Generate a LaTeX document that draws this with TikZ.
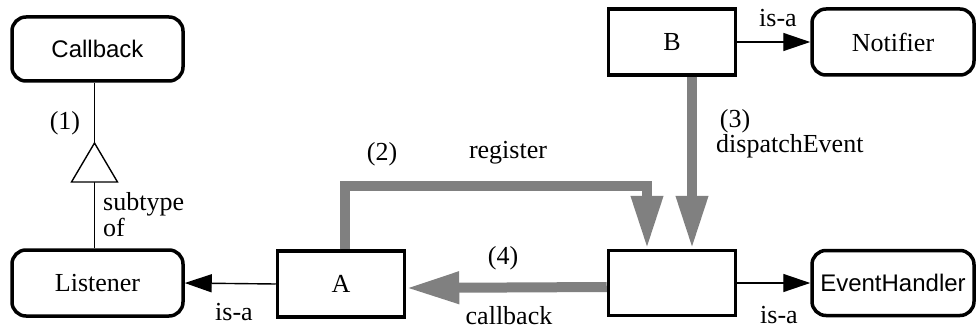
\documentclass[tikz,border=0pt]{standalone}
\usepackage{fontspec}
\setmainfont{Liberation Serif}
\newfontfamily\helv{Liberation Sans}
\usetikzlibrary{arrows.meta,calc}
\definecolor{flowgray}{HTML}{808080}
\tikzset{
  serif/.style={font=\fontsize{26}{26}\selectfont},
  sans/.style={font=\helv\fontsize{24}{24}\selectfont},
  classbox/.style={draw, line width=3.5pt, inner sep=0pt, minimum width=127pt, minimum height=66pt, serif},
  typebox/.style={classbox, rounded corners=14pt, minimum width=163pt},
  thinline/.style={line width=1.4pt},
  isa/.style={thinline, -{Triangle[length=27pt,width=18pt]}},
  flow/.style={draw=flowgray, line width=10pt, -{Triangle[length=53pt,width=30pt,fill=flowgray]}},
  lbl/.style={serif, inner sep=0pt, anchor=base},
}
\begin{document}
\begin{tikzpicture}[x=1pt,y=-1pt]
\useasboundingbox (0,0) rectangle (978,329);

% interface types (rounded) and classes (square)
\node[typebox, minimum width=171pt, minimum height=64pt, sans] (cb) at (97.5,49) {Callback};
\node[typebox, minimum width=171pt] (lst) at (97.5,283) {Listener};
\node[classbox] (a) at (341,284) {A};
\node[classbox] (b) at (672,42) {B};
\node[classbox, minimum height=65pt] (h) at (672,283) {};
\node[typebox, minimum width=162pt] (nt) at (893,42) {Notifier};
\node[typebox, minimum width=162pt, minimum height=65pt, sans] (eh) at (893,283) {EventHandler};

% subtype relation with open triangle
\draw[thinline] (lst.north -| 94.5,0) -- (cb.south -| 94.5,0);
\draw[thinline, fill=white] (94.5,143) -- (117.5,182) -- (71.5,182) -- cycle;

% is-a relations
\draw[isa] (a.west) -- (lst.east);
\draw[isa] (b.east) -- (nt.west);
\draw[isa] (h.east) -- (eh.west);

% event flow
\draw[flow] ([xshift=4pt]a.north) -- ++(0,-63) -| ([xshift=-25pt]h.north);
\draw[flow] ([xshift=20pt]b.south) -- ([xshift=20pt]h.north);
\draw[flow] ([yshift=-4pt]h.west) -- ([yshift=-4pt]a.east);

% labels
\node[lbl] (l1) at (65,129) {(1)};
\node[lbl, anchor=base west] (l1a) at (103,210) {subtype};
\node[lbl, anchor=base west] (l1b) at (103,236) {of};
\node[lbl] (isa1) at (234,320) {is-a};
\node[lbl] (l2) at (382,160) {(2)};
\node[lbl] (reg) at (508,158) {register};
\node[lbl] (l4) at (503,264) {(4)};
\node[lbl] (cbk) at (509,324) {callback};
\node[lbl] (l3) at (735,128) {(3)};
\node[lbl, anchor=base west] (disp) at (716,152) {dispatchEvent};
\node[lbl] (isa2) at (778,27) {is-a};
\node[lbl] (isa3) at (779,323) {is-a};
\end{tikzpicture}
\end{document}
